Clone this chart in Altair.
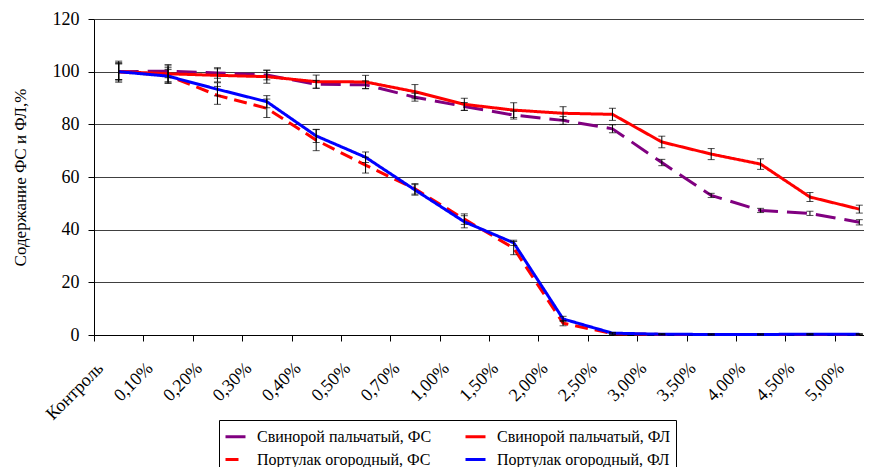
import altair as alt
import pandas as pd

cats = ["Контроль", "0,10%", "0,20%", "0,30%", "0,40%", "0,50%", "0,70%", "1,00%",
        "1,50%", "2,00%", "2,50%", "3,00%", "3,50%", "4,00%", "4,50%", "5,00%"]

# legend is filled column by column: this order gives the reference's two rows
series_names = ["Свинорой пальчатый, ФС", "Портулак огородный, ФС",
                "Свинорой пальчатый, ФЛ", "Портулак огородный, ФЛ"]

svin_fs = [100, 100.2, 99.5, 98.7, 95.2, 95.0, 90.3, 86.8, 83.5, 81.5, 78.3, 65.5, 53.0, 47.3, 46.2, 42.8]
svin_fs_err = [3.5, 2.5, 2.0, 1.8, 1.5, 1.5, 1.5, 1.5, 1.5, 1.5, 1.5, 1.2, 0.8, 0.8, 0.8, 1.0]

port_fs = [100, 98.5, 91.0, 86.1, 74.0, 64.5, 55.5, 44.0, 33.0, 4.5, 0.5, 0.2, 0.2, 0.2, 0.2, 0.2]
port_fs_err = [4.0, 3.0, 3.4, 3.5, 4.0, 3.0, 2.0, 2.0, 2.5, 1.0, 0.3, 0.2, 0.2, 0.2, 0.2, 0.2]

svin_fl = [100, 99.2, 98.6, 98.1, 96.2, 96.1, 92.4, 87.6, 85.4, 84.2, 83.8, 73.3, 68.7, 64.9, 52.4, 47.8]
svin_fl_err = [3.0, 3.0, 2.5, 2.5, 2.5, 2.5, 2.7, 2.3, 2.8, 2.5, 2.3, 2.2, 2.1, 2.0, 1.7, 1.5]

port_fl = [100, 98.3, 93.3, 88.6, 75.6, 67.5, 55.1, 43.0, 35.0, 6.1, 0.7, 0.3, 0.2, 0.2, 0.3, 0.3]
port_fl_err = [3.0, 2.5, 2.5, 2.3, 2.5, 2.0, 2.0, 2.3, 1.0, 1.0, 0.3, 0.2, 0.2, 0.2, 0.2, 0.2]

colors = ["#800080", "#FF0000", "#FF0000", "#0000FF"]
dashes = [[20, 9], [13, 7], [1, 0], [1, 0]]

rows = []
for name, vals, errs in zip(series_names,
                            [svin_fs, port_fs, svin_fl, port_fl],
                            [svin_fs_err, port_fs_err, svin_fl_err, port_fl_err]):
    for c, v, e in zip(cats, vals, errs):
        rows.append({"cat": c, "series": name, "value": v,
                     "lo": max(v - e, 0), "hi": v + e})
df = pd.DataFrame(rows)

FONT = "Liberation Serif"
STEP = 49.375

xscale = alt.Scale(type="point", padding=0.5, range=[0, 790])
xaxis = alt.Axis(title=None, labelAngle=-45, labelAlign="right", labelBaseline="top",
                 tickOffset=-STEP / 2, grid=False, domainColor="black", tickColor="black",
                 tickSize=6, labelFont=FONT, labelFontSize=18, labelColor="black",
                 labelPadding=18)
x = alt.X("cat:N", sort=cats, scale=xscale, axis=xaxis)

yscale = alt.Scale(domain=[0, 120])
yaxis = alt.Axis(title="Содержание ФС и ФЛ,%", values=[0, 20, 40, 60, 80, 100, 120],
                 grid=True, gridColor="#404040", gridWidth=1, domainColor="black",
                 tickColor="black", tickSize=6, labelFont=FONT, labelFontSize=18,
                 labelColor="black", labelPadding=9, titleFont=FONT, titleFontSize=17,
                 titleFontWeight="normal", titleColor="black", titlePadding=23)


def make_legend():
    return alt.Legend(title=None, orient="none", legendX=125, legendY=401, columns=2,
                      symbolType="stroke", symbolSize=400, symbolStrokeWidth=3,
                      labelFont=FONT, labelFontSize=16, labelColor="black", labelLimit=400,
                      labelOffset=10, columnPadding=27, rowPadding=3, padding=5,
                      strokeColor="black", fillColor="white")


lines = alt.Chart(df).mark_line(strokeWidth=3).encode(
    x=x,
    y=alt.Y("value:Q", scale=yscale, axis=yaxis),
    color=alt.Color("series:N", scale=alt.Scale(domain=series_names, range=colors),
                    legend=make_legend()),
    strokeDash=alt.StrokeDash("series:N", scale=alt.Scale(domain=series_names, range=dashes),
                              legend=make_legend()),
)

rules = alt.Chart(df).mark_rule(color="black", strokeWidth=1).encode(
    x=alt.X("cat:N", sort=cats, scale=xscale),
    y="lo:Q",
    y2="hi:Q",
)
caps_lo = alt.Chart(df).mark_tick(color="black", size=7, thickness=1).encode(
    x=alt.X("cat:N", sort=cats, scale=xscale),
    y="lo:Q",
)
caps_hi = alt.Chart(df).mark_tick(color="black", size=7, thickness=1).encode(
    x=alt.X("cat:N", sort=cats, scale=xscale),
    y="hi:Q",
)

chart = alt.layer(lines, rules, caps_lo, caps_hi).properties(
    width=770, height=316,
    autosize=alt.AutoSizeParams(type="none"),
    padding={"left": 86, "top": 11, "right": 0, "bottom": 132},
    background="white",
).configure_view(stroke=None)

chart.save("out.html", embed_options={"renderer": "svg", "actions": False})
